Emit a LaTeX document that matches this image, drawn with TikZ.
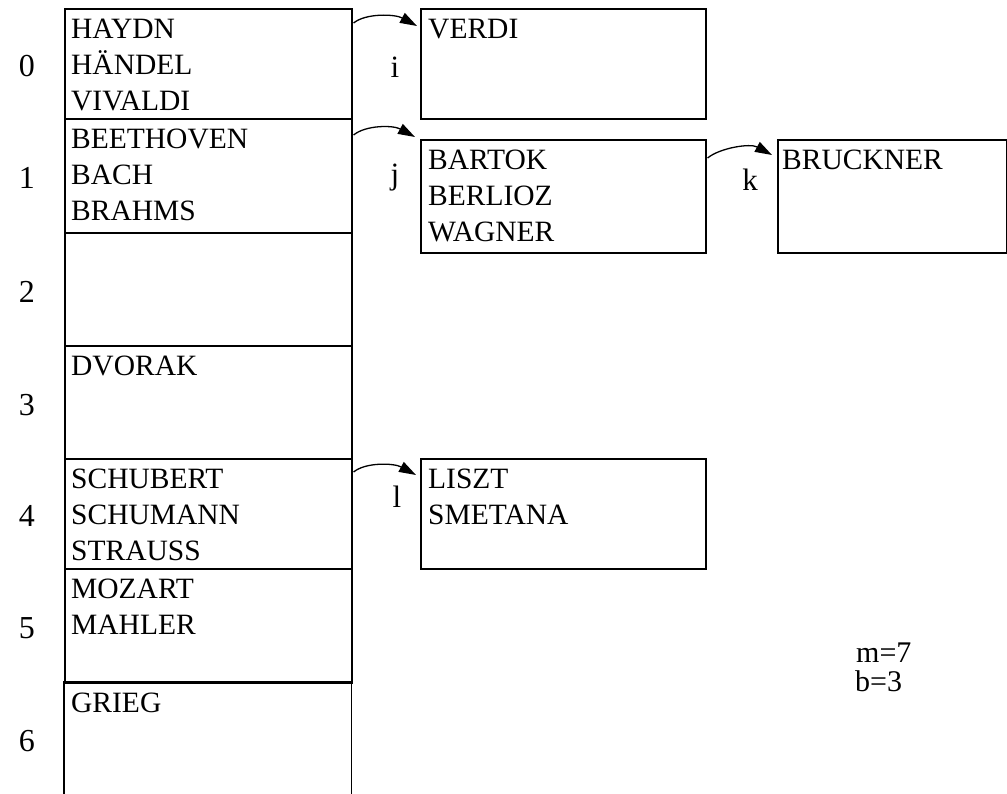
\documentclass[tikz,border=0pt]{standalone}
\usepackage{fontspec}
\setmainfont{Liberation Serif}
\usetikzlibrary{arrows.meta}
\begin{document}
\begin{tikzpicture}[x=1pt,y=-1pt,
  box/.style={draw, line width=1.6pt, rectangle, inner sep=0pt, anchor=north west},
  cell/.style={rectangle, inner sep=0pt, anchor=north west},
  names/.style={anchor=north west, inner sep=0pt, align=left, font=\fontsize{29.5}{36}\selectfont},
  idx/.style={inner sep=0pt, font=\fontsize{32}{36}\selectfont},
  lbl/.style={anchor=base, inner sep=0pt, font=\fontsize{31}{36}\selectfont},
  note/.style={anchor=base west, inner sep=0pt, font=\fontsize{30}{30}\selectfont},
  ptr/.style={line width=1.3pt, -{Triangle[length=17pt,width=11pt]}}]
\useasboundingbox (0,0) rectangle (1007,793);

% main table
\node[box, minimum width=287pt, minimum height=110pt] (r0) at (64,8) {};
\node[box, minimum width=287pt, minimum height=114pt] (r1) at (64,118) {};
\node[box, minimum width=287pt, minimum height=113pt] (r2) at (64,232) {};
\node[box, minimum width=287pt, minimum height=113pt] (r3) at (64,345) {};
\node[box, minimum width=287pt, minimum height=110pt] (r4) at (64,458) {};
\node[box, minimum width=287pt, minimum height=114pt] (r5) at (64,568) {};
\node[cell, minimum width=287pt, minimum height=112pt] (r6) at (64,682) {};
\draw[line width=1.6pt] (r6.south west) -- (r6.north west) -- (r6.north east) -- (r6.south east);

% row contents
\node[names] (t0) at ([shift={(7,4.8)}]r0.north west) {\strut HAYDN\\HÄNDEL\\VIVALDI};
\node[names] (t1) at ([shift={(7,4.8)}]r1.north west) {\strut BEETHOVEN\\BACH\\BRAHMS};
\node[names] (t3) at ([shift={(7,4.8)}]r3.north west) {\strut DVORAK};
\node[names] (t4) at ([shift={(7,4.8)}]r4.north west) {\strut SCHUBERT\\SCHUMANN\\STRAUSS};
\node[names] (t5) at ([shift={(7,4.8)}]r5.north west) {\strut MOZART\\MAHLER};
\node[names] (t6) at ([shift={(7,4.8)}]r6.north west) {\strut GRIEG};

% indices
\node[idx] (i0) at (27,66) {0};
\node[idx] (i1) at (27,178) {1};
\node[idx] (i2) at (27,292) {2};
\node[idx] (i3) at (27,405) {3};
\node[idx] (i4) at (27,516) {4};
\node[idx] (i5) at (27,628) {5};
\node[idx] (i6) at (27,741) {6};

% overflow boxes
\node[box, minimum width=285pt, minimum height=110pt] (v) at (420,8) {};
\node[box, minimum width=285pt, minimum height=113pt] (bt) at (420,139) {};
\node[box, minimum width=229pt, minimum height=113pt] (br) at (777,139) {};
\node[box, minimum width=285pt, minimum height=110pt] (li) at (420,458) {};

\node[names] (tv) at ([shift={(8,4.8)}]v.north west) {\strut VERDI};
\node[names] (tbt) at ([shift={(8,4.8)}]bt.north west) {\strut BARTOK\\BERLIOZ\\WAGNER};
\node[names] (tbr) at ([shift={(5,4.8)}]br.north west) {\strut BRUCKNER};
\node[names] (tli) at ([shift={(8,4.8)}]li.north west) {\strut LISZT\\SMETANA};

% pointers
\draw[ptr] ([shift={(1,15)}]r0.north east) .. controls +(12,-10) and +(-22,-12) .. ([shift={(-3,18)}]v.north west);
\draw[ptr] ([shift={(1,17)}]r1.north east) .. controls +(12,-10) and +(-22,-12) .. ([shift={(-5,-2)}]bt.north west);
\draw[ptr] ([shift={(1,19)}]bt.north east) .. controls +(12,-10) and +(-22,-12) .. ([shift={(-5,16)}]br.north west);
\draw[ptr] ([shift={(1,14)}]r4.north east) .. controls +(12,-10) and +(-22,-12) .. ([shift={(-4,17)}]li.north west);

\node[lbl] (li_i) at (395,77) {i};
\node[lbl] (li_j) at (395,184) {j};
\node[lbl] (li_k) at (750,190) {k};
\node[lbl] (li_l) at (397,507) {l};

\node[note] (m) at (856,662) {m=7};
\node[note] (b) at (855,691) {b=3};
\end{tikzpicture}
\end{document}
